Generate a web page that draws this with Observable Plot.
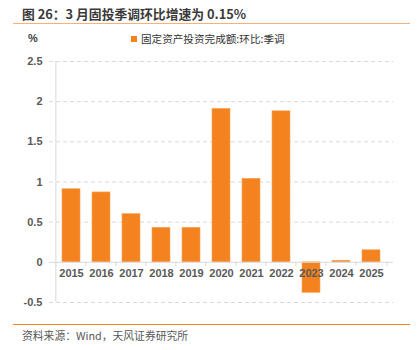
<!DOCTYPE html>
<html>
<head>
<meta charset="utf-8">
<script src="https://cdn.jsdelivr.net/npm/d3@7"></script>
<script src="https://cdn.jsdelivr.net/npm/@observablehq/plot@0.6"></script>
<style>
  html, body { margin: 0; padding: 0; background: #fff; }
  #wrap { position: relative; width: 417px; height: 350px; overflow: hidden; font-family: "Noto Sans CJK SC", "Liberation Sans", sans-serif; }
  .abs { position: absolute; white-space: nowrap; }
  #title { left: 22px; top: 4px; font-size: 12.8px; color: #3a3a3a; font-weight: bold; }
  #topline { left: 13px; top: 23px; width: 397px; height: 1px; background: #f6b27a; }
  #unit { left: 28px; top: 32px; font-size: 11px; color: #404040; font-family: "Liberation Sans", sans-serif; font-weight: bold; }
  #legend { left: 131px; top: 31px; font-size: 10.6px; color: #333; display: flex; align-items: center; }
  #legend span.sw { display: inline-block; width: 6px; height: 6px; background: #f4831f; margin-right: 4px; }
  #botline { left: 13px; top: 324px; width: 397px; height: 1px; background: #f4831f; }
  #source { left: 22px; top: 327px; font-size: 10.8px; color: #595959; }
  #chart { left: 0; top: 50px; }
</style>
</head>
<body>
<div id="wrap">
  <div class="abs" id="title">图 26：3 月固投季调环比增速为 0.15%</div>
  <div class="abs" id="topline"></div>
  <div class="abs" id="unit">%</div>
  <div class="abs" id="legend"><span class="sw"></span>固定资产投资完成额:环比:季调</div>
  <div class="abs" id="chart"></div>
  <div class="abs" id="botline"></div>
  <div class="abs" id="source">资料来源：Wind，天风证券研究所</div>
</div>
<script>
const years = ["2015","2016","2017","2018","2019","2020","2021","2022","2023","2024","2025"];
const values = [0.91, 0.87, 0.60, 0.43, 0.43, 1.91, 1.04, 1.88, -0.38, 0.02, 0.15];
const yTicks = [-0.5, 0, 0.5, 1, 1.5, 2, 2.5];
const tickLabel = d => String(d);

const data = years.map((y, i) => ({year: y, value: values[i]}));
const barColor = "#f4831f";
const width = 417, marginLeft = 49, marginRight = 24;
const step = (width - marginLeft - marginRight) / years.length;

const chart = Plot.plot({
  width,
  height: 270,
  marginTop: 11,
  marginBottom: 18,
  marginLeft,
  marginRight,
  style: {fontFamily: "'Liberation Sans', sans-serif", fontSize: "11px", color: "#404040", background: "transparent"},
  x: {domain: years, padding: 0.4, axis: null},
  y: {domain: [-0.5, 2.5], axis: null},
  marks: [
    Plot.gridY(yTicks.filter(d => d !== 0), {stroke: "#d9d9d9", strokeOpacity: 1, strokeDasharray: "4,3"}),
    Plot.axisY({ticks: yTicks, tickFormat: tickLabel, tickSize: 0, tickPadding: 7, label: null, fill: "#595959", fontWeight: "bold"}),
    Plot.barY(data, {x: "year", y: "value", fill: barColor, stroke: "#f8a45c", strokeWidth: 0.6}),
    Plot.ruleY([0], {stroke: "#d9d9d9", strokeWidth: 1}),
    Plot.ruleX(years, {x: d => d, dx: -step / 2, y1: 0, y2: -0.05, stroke: "#d9d9d9"}),
    Plot.ruleX([years[years.length - 1]], {x: d => d, dx: step / 2, y1: 0, y2: -0.05, stroke: "#d9d9d9"}),
    Plot.ruleX([years[0]], {x: d => d, dx: -step / 2, y1: -0.5, y2: 2.5, stroke: "#d9d9d9"}),
    Plot.text(data, {x: "year", y: 0, text: "year", dy: 11, fill: "#595959", fontWeight: "bold", fontSize: 11})
  ]
});
document.getElementById("chart").appendChild(chart);
</script>
</body>
</html>
